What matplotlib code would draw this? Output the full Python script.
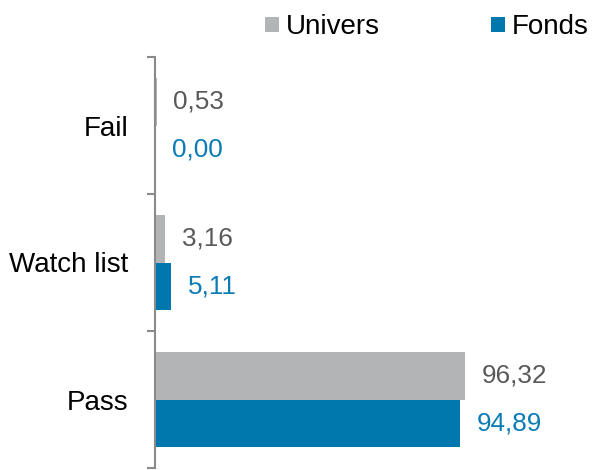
import matplotlib.pyplot as plt
import numpy as np

# values (percent)
categories = ['Pass', 'Watch list', 'Fail']
univers = [96.32, 3.16, 0.53]
fonds = [94.89, 5.11, 0.00]

grey = '#B3B4B6'
blue = '#0077AD'
grey_txt = '#595959'
blue_txt = '#0A7BB5'

plt.rcParams['font.family'] = ['Liberation Sans', 'DejaVu Sans']

fig = plt.figure(figsize=(5.92, 4.70), dpi=100)
ax = fig.add_axes([155 / 592, 2 / 470, 130 * 3.218 / 592, 411 / 470])

y = np.arange(len(categories))
h = 0.35
b1 = ax.barh(y + h / 2, univers, height=h, color=grey, label='Univers', zorder=1)
b2 = ax.barh(y - h / 2, fonds, height=h, color=blue, label='Fonds', zorder=1)

def fmt(v):
    return f'{v:.2f}'.replace('.', ',')

for bar, v in zip(b1, univers):
    ax.annotate(fmt(v), (v, bar.get_y() + bar.get_height() / 2), xytext=(12, 0),
                textcoords='offset points', va='center', ha='left', fontsize=18.8, color=grey_txt)
for bar, v in zip(b2, fonds):
    ax.annotate(fmt(v), (v, bar.get_y() + bar.get_height() / 2), xytext=(12, 0),
                textcoords='offset points', va='center', ha='left', fontsize=18.8, color=blue_txt)

ax.set_xlim(0, 130)
ax.set_ylim(-0.5, 2.5)
ax.set_yticks(y)
ax.set_yticklabels(categories, fontsize=20)
ax.set_yticks([-0.5, 0.5, 1.5, 2.5], minor=True)
ax.tick_params(axis='y', which='major', length=0, pad=19)
ax.tick_params(axis='y', which='minor', length=6, width=1.5, color='#8A8A8A')
ax.set_xticks([])
for s in ['top', 'right', 'bottom']:
    ax.spines[s].set_visible(False)
ax.spines['left'].set_color('#8A8A8A')
ax.spines['left'].set_linewidth(1.5)
ax.spines['left'].set_zorder(3)

fig.legend(loc='upper right', bbox_to_anchor=(1.022, 1.005), ncol=2, frameon=False,
           fontsize=20, handlelength=0.5, handleheight=0.5, handletextpad=0.25,
           columnspacing=4.0, borderaxespad=0.2)

fig.savefig('out.png', dpi=100)
